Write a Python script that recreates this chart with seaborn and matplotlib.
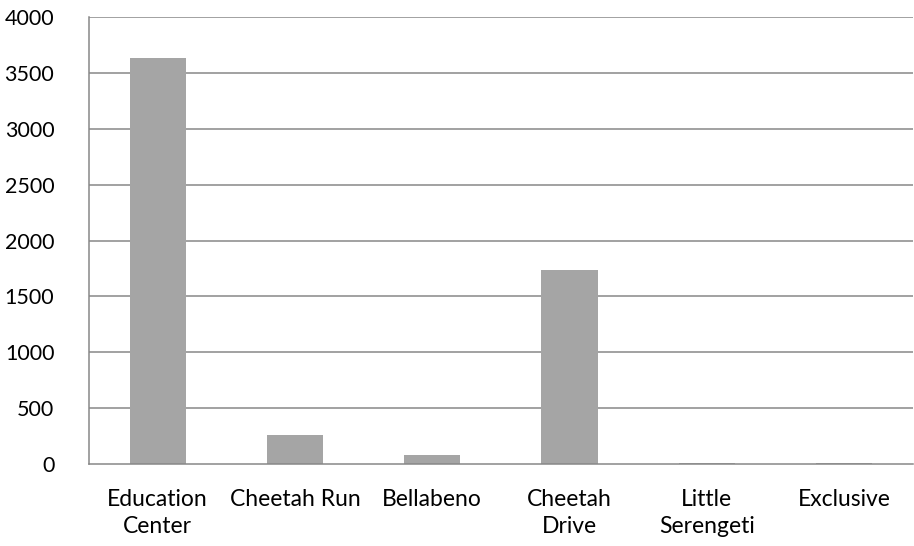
import matplotlib
matplotlib.use("Agg")
import matplotlib.pyplot as plt
import seaborn as sns
import pandas as pd

# Chart data
categories = ["Education\nCenter", "Cheetah Run", "Bellabeno", "Cheetah\nDrive", "Little\nSerengeti", "Exclusive"]
values = [3633, 263, 83, 1735, 8, 8]
y_ticks = [0, 500, 1000, 1500, 2000, 2500, 3000, 3500, 4000]

sns.set_style("white")
plt.rcParams['font.family'] = ['Lato', 'DejaVu Sans']

df = pd.DataFrame({"cat": categories, "val": values})

fig = plt.figure(figsize=(9.14, 5.46), dpi=100)
ax = fig.add_axes([0.0974, 0.150, 0.901, 0.819])

# Gridlines behind bars
for t in y_ticks[1:]:
    ax.axhline(t, color="#878787", linewidth=1.1, zorder=0)

sns.barplot(data=df, x="cat", y="val", color="#A5A5A5", width=0.41,
            saturation=1, linewidth=0, ax=ax, zorder=2)

ax.set_ylim(0, 4000)
ax.set_xlim(-0.5, 5.5)
ax.set_yticks(y_ticks)
ax.set_xlabel("")
ax.set_ylabel("")
ax.tick_params(axis="both", length=0, colors="black")
ax.tick_params(axis="x", pad=18, labelsize=16.5)
ax.tick_params(axis="y", pad=25, labelsize=15.5)
for lbl in ax.get_xticklabels():
    lbl.set_linespacing(1.35)

for s in ["top", "right"]:
    ax.spines[s].set_visible(False)
for s in ["left", "bottom"]:
    ax.spines[s].set_color("#878787")
    ax.spines[s].set_linewidth(1.1)
ax.spines["bottom"].set_zorder(3)

plt.savefig("out.png", dpi=100)
